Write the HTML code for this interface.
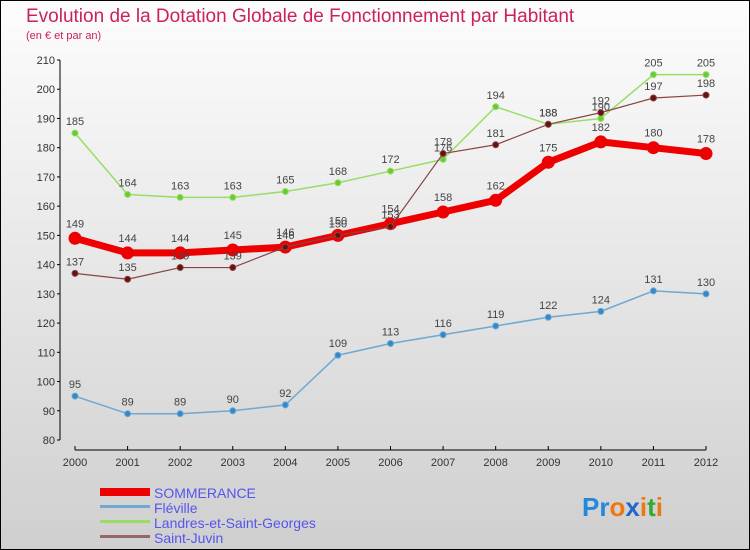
<!DOCTYPE html>
<html><head><meta charset="utf-8"><style>
html,body{margin:0;padding:0}
body{width:750px;height:550px;overflow:hidden;font-family:"Liberation Sans",sans-serif}
svg{display:block}
</style></head><body>
<svg id="chart" width="750" height="550" viewBox="0 0 750 550">
<defs><linearGradient id="bg" x1="0" y1="0" x2="0" y2="1"><stop offset="0" stop-color="#fdfdfd"/><stop offset="1" stop-color="#cfcfcf"/></linearGradient></defs>
<rect x="0.5" y="0.5" width="749" height="549" fill="url(#bg)" stroke="#000"/>
<text x="26" y="22" font-size="19" fill="#cc2255">Evolution de la Dotation Globale de Fonctionnement par Habitant</text>
<text x="26" y="39" font-size="11" fill="#cc2255">(en € et par an)</text>
<g id="axes"></g><g id="series"></g>
<g>
<rect x="100" y="488" width="50" height="8" fill="#ee0000"/>
<text x="154" y="498" font-size="14" fill="#5555ee">SOMMERANCE</text>
<rect x="100" y="505" width="50" height="3" fill="#6fa8d0"/>
<text x="154" y="513" font-size="14" fill="#5555ee">Fléville</text>
<rect x="100" y="520" width="50" height="3" fill="#99dd66"/>
<text x="154" y="528" font-size="14" fill="#5555ee">Landres-et-Saint-Georges</text>
<rect x="100" y="535" width="50" height="3" fill="#996666"/>
<text x="154" y="543" font-size="14" fill="#5555ee">Saint-Juvin</text>
</g>
<text x="582" y="516" font-size="26" font-weight="bold"><tspan fill="#2288dd">Pr</tspan><tspan fill="#ee7711">o</tspan><tspan fill="#2266cc">x</tspan><tspan fill="#ee7711">i</tspan><tspan fill="#33aa33">t</tspan><tspan fill="#ee7711">i</tspan></text>
</svg>
<script>
const years=[2000,2001,2002,2003,2004,2005,2006,2007,2008,2009,2010,2011,2012];
const yTicks=[80,90,100,110,120,130,140,150,160,170,180,190,200,210];
const sommerance=[149,144,144,145,146,150,154,158,162,175,182,180,178];
const fleville=[95,89,89,90,92,109,113,116,119,122,124,131,130];
const landres=[185,164,163,163,165,168,172,176,194,188,190,205,205];
const saintJuvin=[137,135,139,139,146,150,153,178,181,188,192,197,198];
const NS='http://www.w3.org/2000/svg';
function X(i){return 75+i*(706-75)/(years.length-1);}
function Y(v){return 440-(v-80)*(380/130);}
function mk(tag,attrs,parent){const e=document.createElementNS(NS,tag);for(const k in attrs)e.setAttribute(k,attrs[k]);parent.appendChild(e);return e;}
const axes=document.getElementById('axes');
const yax=mk('line',{x1:60,y1:Y(210),x2:60,y2:Y(80),stroke:'#000'},axes);


yTicks.forEach(t=>{
  mk('line',{x1:57,x2:60,y1:Y(t),y2:Y(t),stroke:'#000'},axes);
  const tx=mk('text',{x:55,y:Y(t)+4,'text-anchor':'end','font-size':11,fill:'#333'},axes);
  tx.textContent=t;
  
  
});
const xax=mk('line',{x1:X(0),y1:450,x2:X(years.length-1),y2:450,stroke:'#000'},axes);


years.forEach((yr,i)=>{
  mk('line',{x1:X(i),x2:X(i),y1:446,y2:450,stroke:'#000'},axes);
  const tx=mk('text',{x:X(i),y:466,'text-anchor':'middle','font-size':11,fill:'#333'},axes);
  tx.textContent=yr;
  
  
});
const sg=document.getElementById('series');
function draw(vals,name,color,dot,w,r){
  const g=mk('g',{},sg);
  
  
  const pl=mk('polyline',{points:vals.map((v,i)=>X(i)+','+Y(v)).join(' '),fill:'none',stroke:color,'stroke-width':w,'stroke-linejoin':'round'},g);
  
  
  vals.forEach((v,i)=>{
    const c=mk('circle',{cx:X(i),cy:Y(v),r:r,fill:dot,stroke:color,'stroke-width':1},g);
    
    
    const t=mk('text',{x:X(i),y:Y(v)-(r+5),'text-anchor':'middle','font-size':11,fill:'#444'},g);
    t.textContent=v;
    
    
  });
}
draw(fleville,'fleville','#6fa8d0','#3388cc',1.5,3);
draw(landres,'landres','#99dd66','#66cc33',1.5,3);
draw(sommerance,'sommerance','#ee0000','#ee0000',7,6);
draw(saintJuvin,'saint-juvin','#884444','#661111',1.2,3);
</script>
</body></html>
